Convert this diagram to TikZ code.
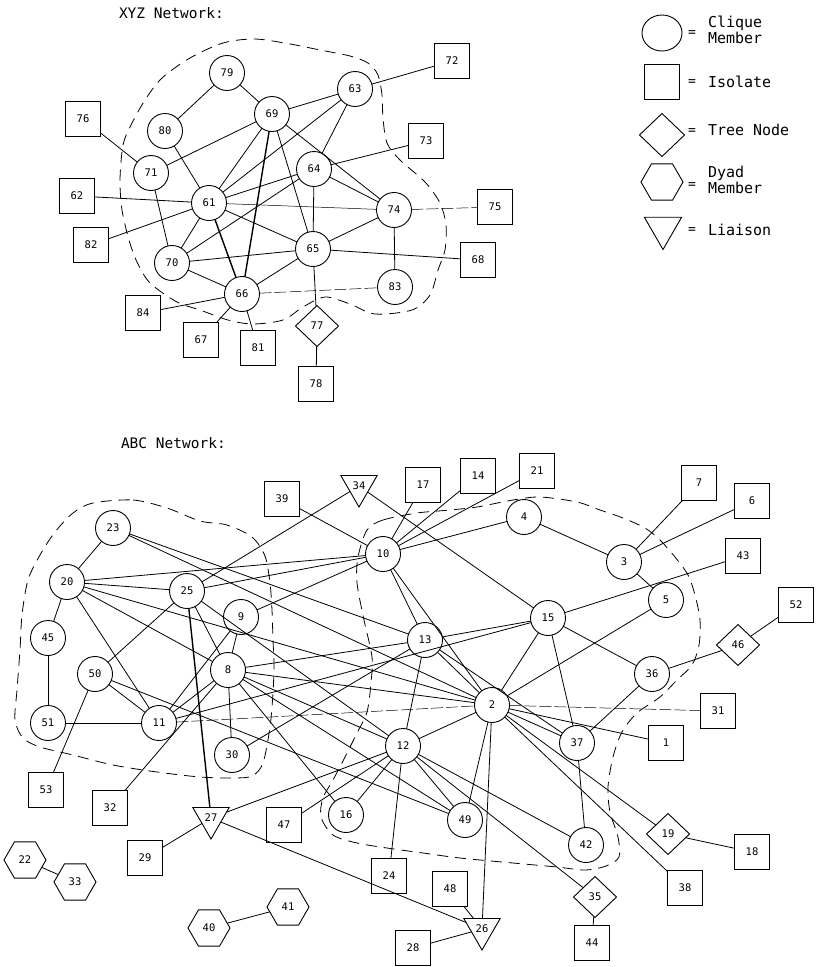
\documentclass[tikz,border=0pt]{standalone}
\usepackage{fontspec}
\newfontfamily\lblfont{DejaVu Sans Mono}
\usetikzlibrary{shapes.geometric}
\begin{document}
\begin{tikzpicture}[x=1pt,y=-1pt,
  every node/.style={font=\lblfont\fontsize{10.5}{11}\selectfont, inner sep=0pt, outer sep=0pt},
  cl/.style={circle, draw, fill=white, line width=0.9pt, minimum size=35pt},
  iso/.style={rectangle, draw, fill=white, line width=0.9pt, minimum width=35pt, minimum height=35pt},
  tree/.style={diamond, draw, fill=white, line width=0.9pt, minimum width=43pt, minimum height=41pt},
  dyad/.style={regular polygon, regular polygon sides=6, draw, fill=white, line width=0.9pt, minimum size=42pt},
  liai/.style={regular polygon, regular polygon sides=3, shape border rotate=180, draw, fill=white, line width=0.9pt, minimum size=42pt},
  ed/.style={line width=0.8pt},
  thk/.style={line width=1.4pt},
  dl/.style={line width=0.5pt, dash pattern=on 12pt off 3pt},
  bnd/.style={line width=0.8pt, dash pattern=on 11pt off 7pt},
  ttl/.style={font=\lblfont\fontsize{14.5}{16}\selectfont, anchor=west},
  leg/.style={font=\lblfont\fontsize{15}{16}\selectfont, anchor=west, align=left},
  eq/.style={font=\lblfont\fontsize{13}{14}\selectfont},
]
\useasboundingbox (0,0) rectangle (815,967);

% ---------- clique boundaries ----------
\draw[bnd] plot[smooth cycle] coordinates {(120,180) (123,145) (131,125) (145,100) (162,78) (190,58) (223,43) (255,39) (290,44) (320,50) (350,56) (368,63) (378,75) (382,95) (383,118) (387,143) (400,160) (425,182) (440,203) (446,225) (445,250) (438,270) (430,295) (412,310) (375,314) (350,304) (325,297) (303,307) (283,320) (253,324) (228,320) (200,310) (177,302) (150,283) (137,262) (129,240) (122,210)};
\draw[bnd] plot[smooth cycle] coordinates {(93,503) (133,500) (167,508) (200,521) (227,525) (252,537) (265,556) (270,583) (272,610) (273,640) (274,665) (273,693) (270,727) (263,763) (252,776) (233,778) (200,777) (157,772) (113,765) (73,755) (40,747) (23,738) (15,720) (17,690) (20,650) (22,615) (28,580) (40,555) (55,532) (73,513)};
\draw[bnd] plot[smooth cycle] coordinates {(367,530) (383,520) (417,513) (450,510) (477,507) (513,500) (540,497) (577,502) (600,510) (623,518) (645,528) (660,540) (675,557) (688,575) (695,595) (700,620) (699,645) (692,665) (677,680) (660,697) (637,713) (622,732) (613,757) (608,787) (610,812) (618,837) (619,857) (606,866) (585,870) (557,867) (513,863) (460,858) (423,853) (387,848) (357,843) (333,835) (321,817) (323,798) (333,780) (345,757) (357,733) (367,712) (371,683) (372,657) (364,620) (357,583) (358,557)};

% ---------- titles ----------
\node[ttl] (t1) at (119,13) {XYZ Network:};
\node[ttl] (t2) at (121,443) {ABC Network:};

% ---------- legend ----------
\node[ellipse, draw, line width=0.9pt, minimum width=40pt, minimum height=36pt] (lg1) at (662,33) {};
\node[eq] (e1) at (692,34) {=};
\node[leg] (l1) at (708,30) {Clique\\Member};
\node[iso] (lg2) at (662,82) {};
\node[eq] (e2) at (692,83) {=};
\node[leg] (l2) at (708,82) {Isolate};
\node[tree, minimum width=45pt, minimum height=43pt] (lg3) at (662,135) {};
\node[eq] (e3) at (692,132) {=};
\node[leg] (l3) at (708,130) {Tree Node};
\node[dyad] (lg4) at (662,182) {};
\node[eq] (e4) at (692,186) {=};
\node[leg] (l4) at (708,180) {Dyad\\Member};
\node[liai, minimum size=43pt] (lg5) at (663,228) {};
\node[eq] (e5) at (692,231) {=};
\node[leg] (l5) at (708,230) {Liaison};

% ---------- XYZ nodes ----------
\node[cl] (x79) at (227,73) {79};
\node[cl] (x80) at (165,131) {80};
\node[cl] (x69) at (272,114) {69};
\node[cl] (x63) at (355,89) {63};
\node[iso] (x72) at (452,61) {72};
\node[iso] (x76) at (83,119) {76};
\node[cl] (x71) at (151,173) {71};
\node[cl] (x64) at (314,169) {64};
\node[iso] (x73) at (426,141) {73};
\node[iso] (x62) at (77,196) {62};
\node[cl] (x61) at (209,203) {61};
\node[cl] (x74) at (394,210) {74};
\node[iso] (x75) at (495,207) {75};
\node[iso] (x82) at (91,245) {82};
\node[cl] (x70) at (172,263) {70};
\node[cl] (x65) at (313,249) {65};
\node[iso] (x68) at (478,260) {68};
\node[cl] (x66) at (242,294) {66};
\node[cl] (x83) at (395,287) {83};
\node[iso] (x84) at (143,313) {84};
\node[iso] (x67) at (201,340) {67};
\node[iso] (x81) at (258,348) {81};
\node[tree] (x77) at (317,326) {77};
\node[iso] (x78) at (316,384) {78};

% ---------- XYZ edges ----------
\draw[ed] (x79) -- (x80);
\draw[ed] (x79) -- (x69);
\draw[ed] (x76) -- (x71);
\draw[ed] (x80) -- (x61);
\draw[ed] (x69) -- (x71);
\draw[ed] (x69) -- (x61);
\draw[thk] (x69) -- (x66);
\draw[ed] (x69) -- (x65);
\draw[ed] (x69) -- (x74);
\draw[ed] (x69) -- (x63);
\draw[ed] (x63) -- (x61);
\draw[ed] (x63) -- (x64);
\draw[ed] (x63) -- (x72);
\draw[ed] (x64) -- (x61);
\draw[ed] (x64) -- (x73);
\draw[ed] (x64) -- (x74);
\draw[ed] (x64) -- (x65);
\draw[ed] (x70) -- (x64);
\draw[ed] (x61) -- (x62);
\draw[ed] (x61) -- (x82);
\draw[ed] (x61) -- (x70);
\draw[line width=0.5pt] (x61) -- (x74);
\draw[ed] (x61) -- (x65);
\draw[thk] (x61) -- (x66);
\draw[ed] (x71) -- (x70);
\draw[ed] (x70) -- (x65);
\draw[ed] (x70) -- (x66);
\draw[ed] (x65) -- (x66);
\draw[ed] (x65) -- (x74);
\draw[ed] (x65) -- (x68);
\draw[ed] (x65) -- (x77);
\draw[dl] (x66) -- (x83);
\draw[ed] (x66) -- (x84);
\draw[ed] (x66) -- (x67);
\draw[ed] (x66) -- (x81);
\draw[dl] (x74) -- (x75);
\draw[ed] (x74) -- (x83);
\draw[ed] (x77) -- (x78);

% ---------- ABC nodes ----------
\node[iso] (a39) at (282,499) {39};
\node[liai] (a34) at (359,486) {34};
\node[iso] (a17) at (423,485) {17};
\node[iso] (a14) at (478,476) {14};
\node[iso] (a21) at (537,471) {21};
\node[iso] (a7) at (699,483) {7};
\node[iso] (a6) at (752,501) {6};
\node[cl] (a23) at (113,528) {23};
\node[cl] (a4) at (524,517) {4};
\node[cl] (a10) at (383,554) {10};
\node[cl] (a3) at (624,562) {3};
\node[iso] (a43) at (743,556) {43};
\node[cl] (a20) at (67,582) {20};
\node[cl] (a25) at (187,591) {25};
\node[cl] (a9) at (241,617) {9};
\node[cl] (a5) at (666,600) {5};
\node[cl] (a15) at (548,618) {15};
\node[iso] (a52) at (796,605) {52};
\node[cl] (a13) at (425,640) {13};
\node[cl] (a45) at (48,638) {45};
\node[tree] (a46) at (738,645) {46};
\node[cl] (a50) at (95,674) {50};
\node[cl] (a8) at (228,670) {8};
\node[cl] (a36) at (652,674) {36};
\node[cl] (a2) at (492,705) {2};
\node[iso] (a31) at (718,711) {31};
\node[cl] (a51) at (48,723) {51};
\node[cl] (a11) at (159,723) {11};
\node[cl] (a37) at (577,743) {37};
\node[iso] (a1) at (666,743) {1};
\node[cl] (a30) at (232,755) {30};
\node[cl] (a12) at (403,746) {12};
\node[iso] (a53) at (46,790) {53};
\node[iso] (a32) at (110,808) {32};
\node[liai] (a27) at (211,818) {27};
\node[iso] (a47) at (284,825) {47};
\node[cl] (a16) at (346,815) {16};
\node[cl] (a49) at (465,820) {49};
\node[cl] (a42) at (586,845) {42};
\node[tree] (a19) at (668,834) {19};
\node[iso] (a18) at (752,852) {18};
\node[iso] (a29) at (145,858) {29};
\node[iso] (a24) at (389,876) {24};
\node[iso] (a48) at (450,889) {48};
\node[tree] (a35) at (595,897) {35};
\node[iso] (a38) at (685,888) {38};
\node[dyad] (a22) at (25,860) {22};
\node[dyad] (a33) at (75,882) {33};
\node[liai] (a26) at (482,929) {26};
\node[dyad] (a41) at (288,907) {41};
\node[dyad] (a40) at (209,928) {40};
\node[iso] (a44) at (592,943) {44};
\node[iso] (a28) at (413,948) {28};

% ---------- ABC edges ----------
\draw[ed] (a23) -- (a20);
\draw[ed] (a23) -- (a13);
\draw[ed] (a23) -- (a2);
\draw[ed] (a20) -- (a45);
\draw[ed] (a20) -- (a11);
\draw[ed] (a20) -- (a25);
\draw[ed] (a20) -- (a10);
\draw[ed] (a20) -- (a8);
\draw[ed] (a20) -- (a2);
\draw[ed] (a45) -- (a51);
\draw[ed] (a51) -- (a11);
\draw[ed] (a25) -- (a10);
\draw[ed] (a25) -- (a34);
\draw[ed] (a25) -- (a50);
\draw[ed] (a25) -- (a8);
\draw[thk] (a25) -- (a27);
\draw[ed] (a25) -- (a12);
\draw[ed] (a9) -- (a10);
\draw[ed] (a9) -- (a8);
\draw[ed] (a9) -- (a11);
\draw[ed] (a50) -- (a11);
\draw[ed] (a50) -- (a49);
\draw[ed] (a50) -- (a53);
\draw[ed] (a11) -- (a8);
\draw[dl] (a11) -- (a2);
\draw[ed] (a11) -- (a15);
\draw[ed] (a8) -- (a13);
\draw[ed] (a8) -- (a2);
\draw[ed] (a8) -- (a12);
\draw[ed] (a8) -- (a49);
\draw[ed] (a8) -- (a16);
\draw[ed] (a8) -- (a30);
\draw[ed] (a8) -- (a32);
\draw[ed] (a30) -- (a13);
\draw[ed] (a10) -- (a39);
\draw[ed] (a10) -- (a17);
\draw[ed] (a10) -- (a14);
\draw[ed] (a10) -- (a21);
\draw[ed] (a10) -- (a4);
\draw[ed] (a10) -- (a13);
\draw[ed] (a10) -- (a2);
\draw[ed] (a34) -- (a15);
\draw[ed] (a4) -- (a3);
\draw[ed] (a3) -- (a7);
\draw[ed] (a3) -- (a6);
\draw[ed] (a3) -- (a5);
\draw[ed] (a5) -- (a2);
\draw[ed] (a15) -- (a43);
\draw[ed] (a15) -- (a13);
\draw[ed] (a15) -- (a2);
\draw[ed] (a15) -- (a37);
\draw[ed] (a15) -- (a36);
\draw[ed] (a36) -- (a46);
\draw[ed] (a46) -- (a52);
\draw[ed] (a36) -- (a37);
\draw[ed] (a13) -- (a2);
\draw[ed] (a13) -- (a37);
\draw[ed] (a13) -- (a12);
\draw[ed] (a2) -- (a12);
\draw[ed] (a2) -- (a49);
\draw[ed] (a2) -- (a26);
\draw[ed] (a2) -- (a37);
\draw[ed] (a2) -- (a1);
\draw[dl] (a2) -- (a31);
\draw[ed] (a2) -- (a19);
\draw[ed] (a2) -- (a38);
\draw[ed] (a12) -- (a16);
\draw[ed] (a12) -- (a47);
\draw[ed] (a12) -- (a27);
\draw[ed] (a12) -- (a24);
\draw[ed] (a12) -- (a49);
\draw[ed] (a12) -- (a42);
\draw[ed] (a12) -- (a35);
\draw[ed] (a37) -- (a42);
\draw[ed] (a35) -- (a44);
\draw[ed] (a19) -- (a18);
\draw[ed] (a27) -- (a29);
\draw[ed] (a27) -- (a26);
\draw[ed] (a26) -- (a48);
\draw[ed] (a26) -- (a28);
\draw[ed] (a22) -- (a33);
\draw[ed] (a40) -- (a41);
\end{tikzpicture}
\end{document}
